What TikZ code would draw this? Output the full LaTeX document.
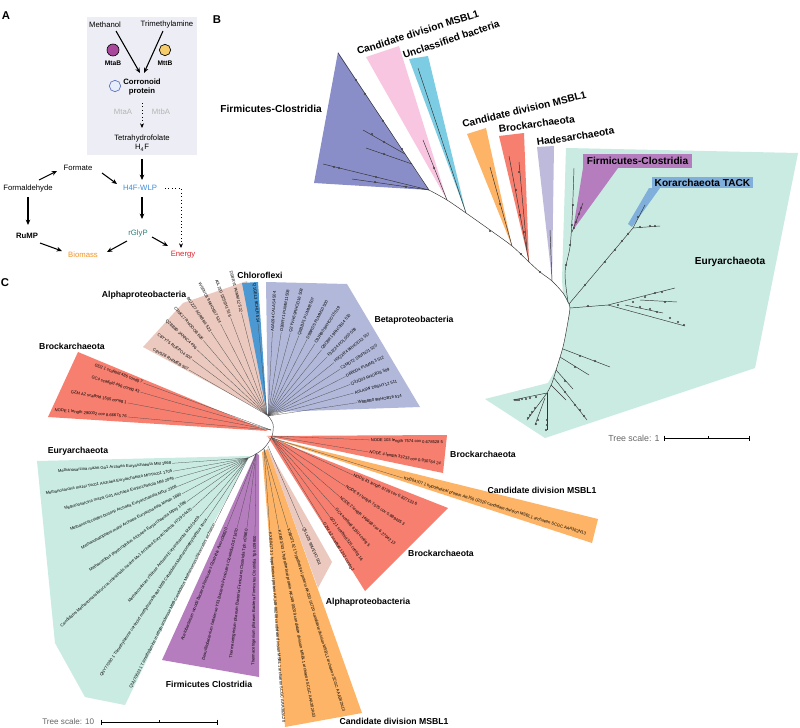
\documentclass[tikz,border=0pt]{standalone}
\usepackage{fontspec}
\setmainfont{Liberation Sans}
\usetikzlibrary{arrows.meta,calc}
\definecolor{boxgrey}{HTML}{EDEDF5}
\definecolor{mtabc}{HTML}{A9479C}
\definecolor{mttbc}{HTML}{F7CC6A}
\definecolor{corfill}{HTML}{E6EEFA}
\definecolor{coredge}{HTML}{5C6EC2}
\definecolor{wlpblue}{HTML}{3D8EDB}
\definecolor{glyteal}{HTML}{2F7F78}
\definecolor{bioorange}{HTML}{F39322}
\definecolor{enred}{HTML}{D8262E}
\definecolor{greytxt}{HTML}{B5B5B5}
\definecolor{cEury}{HTML}{C9EBE2}
\definecolor{cFirmB}{HTML}{8A8EC8}
\definecolor{cPink}{HTML}{F9C6E1}
\definecolor{cCyan}{HTML}{7CCDE3}
\definecolor{cOrange}{HTML}{FDB466}
\definecolor{cRed}{HTML}{F67F70}
\definecolor{cLav}{HTML}{BEBADB}
\definecolor{cFirmP}{HTML}{B67DBE}
\definecolor{cKor}{HTML}{7FAFDA}
\definecolor{cAlpha}{HTML}{EBC9BF}
\definecolor{cChlo}{HTML}{4B98D2}
\definecolor{cBeta}{HTML}{B1B8D9}
\tikzset{
  albl/.style={font=\fontsize{5.8}{7}\selectfont, inner sep=0.5pt, align=center},
  alblb/.style={font=\fontsize{5.8}{7}\selectfont\bfseries, inner sep=0.5pt, align=center},
  plet/.style={font=\fontsize{8.5}{10}\selectfont\bfseries, inner sep=0pt},
  arr/.style={-{Stealth[length=4pt,width=3.4pt]}, line width=0.8pt},
  dotarr/.style={-{Stealth[length=3.5pt,width=3pt]}, line width=0.6pt, dotted},
  blabel/.style={font=\fontsize{7.6}{9}\selectfont\bfseries, inner sep=0pt},
  clabel/.style={font=\fontsize{6.5}{8}\selectfont\bfseries, inner sep=0pt},
  scaletxt/.style={font=\fontsize{6.6}{8}\selectfont, text=black!60, inner sep=0pt},
  leaftext/.style={font=\fontsize{3.1}{3.7}\selectfont, inner sep=0.6pt},
  leafline/.style={line width=0.2pt, draw=black!70},
  br/.style={line width=0.35pt, draw=black!80},
}
\newcounter{lfc}
\newcommand\leafC[4]{%
  \stepcounter{lfc}%
  \pgfmathtruncatemacro\lfside{cos(#2)<0 ? 1 : 0}%
  \ifnum\lfside=1\relax
    \draw[leafline] (#1) -- ++({#3*cos(#2)},{-#3*sin(#2)}) node[leaftext,anchor=east,rotate=#2-180] (leaf\arabic{lfc}) {#4};%
  \else
    \draw[leafline] (#1) -- ++({#3*cos(#2)},{-#3*sin(#2)}) node[leaftext,anchor=west,rotate=#2] (leaf\arabic{lfc}) {#4};%
  \fi}
\newcommand\bdots[1]{\foreach \p in {#1} \fill[black!75] \p circle[radius=0.9pt];}
\begin{document}
\begin{tikzpicture}[x=0.75pt,y=-0.75pt]
\useasboundingbox (0,0) rectangle (800,728);
\fill[white] (0,0) rectangle (800,728);

% ================= Panel A =================
\fill[boxgrey] (87,17) rectangle (197,155);
\node[plet] (pA) at (6,16) {A};
\node[albl] (methanol) at (105,25) {Methanol};
\node[albl] (trimeth) at (167,25) {Trimethylamine};
\node[draw, circle, fill=mtabc, line width=0.5pt, minimum width=8.5pt, minimum height=9pt, inner sep=0pt] (mtabdot) at (113,50) {};
\node[draw, circle, fill=mttbc, line width=0.5pt, minimum width=8.5pt, inner sep=0pt] (mttbdot) at (165,50) {};
\node[alblb, font=\fontsize{5}{6}\selectfont\bfseries] (mtab) at (113,63) {MtaB};
\node[alblb, font=\fontsize{5}{6}\selectfont\bfseries] (mttb) at (165,63) {MttB};
\node[draw=coredge, circle, fill=corfill, line width=0.5pt, minimum size=8.5pt, inner sep=0pt] (cordot) at (115,86) {};
\node[alblb] (corr) at (142,87) {Corronoid\\protein};
\node[albl, text=greytxt] (mtaa) at (123,112) {MtaA};
\node[albl, text=greytxt] (mtba) at (161,112) {MtbA};
\node[albl] (thf) at (142,143) {Tetrahydrofolate\\H\textsubscript{4}F};
\node[albl] (formate) at (78,168) {Formate};
\node[albl] (formald) at (28,188) {Formaldehyde};
\node[albl, text=wlpblue] (wlp) at (140,188) {H4F-WLP};
\node[alblb] (rump) at (27,236) {RuMP};
\node[albl, text=glyteal] (rglyp) at (138,233) {rGlyP};
\node[albl, text=bioorange] (biomass) at (83,255) {Biomass};
\node[albl, text=enred] (energy) at (183,255) {Energy};

\draw[arr] ([shift={(11,6)}]methanol.center) -- ([shift={(-2,-14)}]corr.center);
\draw[arr] ([shift={(-4,6)}]trimeth.center) -- ([shift={(2,-14)}]corr.center);
\draw[dotarr] ([shift={(0,16)}]corr.center) -- ([shift={(0,-15)}]thf.center);
\draw[arr] ([shift={(0,16)}]thf.center) -- ([shift={(2,-8)}]wlp.center);
\draw[arr] ([shift={(11,-8)}]formald.center) -- ([shift={(-21,3)}]formate.center);
\draw[arr] ([shift={(24,5)}]formate.center) -- ([shift={(-23,-4)}]wlp.center);
\draw[dotarr] ([shift={(25,0)}]wlp.center) -| ([shift={(-2,-7)}]energy.center);
\draw[arr] ([shift={(2,9)}]wlp.center) -- ([shift={(4,-14)}]rglyp.center);
\draw[arr] ([shift={(0,9)}]formald.center) -- ([shift={(1,-11)}]rump.center);
\draw[arr] ([shift={(13,7)}]rump.center) -- ([shift={(-21,-4)}]biomass.center);
\draw[arr] ([shift={(-11,8)}]rglyp.center) -- ([shift={(24,-3)}]biomass.center);
\draw[arr] ([shift={(14,4)}]rglyp.center) -- ([shift={(-15,-9)}]energy.center);

% ================= Panel B =================
\node[plet] (pB) at (217,20) {B};
\fill[cEury] (566,148) -- (798,153) -- (755,368) -- (545,438) -- (485,399) -- (548,383) -- (557,367) -- (563,347) -- (567,327) -- (570,308) -- (563,293) -- (562,280) -- cycle;
\fill[cFirmB] (338,52) -- (314,183) -- (429,190) -- cycle;
\fill[cPink] (366,57) -- (399,46) -- (447,200) -- cycle;
\fill[cCyan] (409,59) -- (428,56) -- (466,213) -- cycle;
\fill[cOrange] (467,134) -- (486,128) -- (512,246) -- cycle;
\fill[cRed] (499,136) -- (524,133) -- (529,262) -- cycle;
\fill[cLav] (537,147) -- (554,146) -- (552,280) -- cycle;
\fill[cFirmP] (583,154) rectangle (692,168);
\fill[cFirmP] (583,168) -- (618,168) -- (573,230) -- cycle;
\fill[cKor] (652,177) rectangle (753,188);
\fill[cKor] (649,188) -- (660,188) -- (632,227) -- (628,224) -- cycle;

\node[blabel, anchor=east] (bfirm) at (322,109) {Firmicutes-Clostridia};
\node[blabel, anchor=base west, rotate=17.5] (bmsbl1) at (358,55) {Candidate division MSBL1};
\node[blabel, anchor=base west, rotate=18.6] (bunc) at (404,59) {Unclassified bacteria};
\node[blabel, anchor=base west, rotate=13.6] (bmsbl2) at (463,128) {Candidate division MSBL1};
\node[blabel, anchor=base west, rotate=8] (bbrock) at (499,133) {Brockarchaeota};
\node[blabel, anchor=base west, rotate=8.7] (bhades) at (537,146) {Hadesarchaeota};
\node[blabel] (bfirm2) at (637.5,161) {Firmicutes-Clostridia};
\node[blabel] (bkor) at (702.5,182.5) {Korarchaeota TACK};
\node[blabel] (beury) at (730,262) {Euryarchaeota};

% tree B
\draw[br] plot[smooth] coordinates {(429,190)(447,200)(466,213)(490,230)(512,246)(529,262)(540,272)(552,281)(563,293)(568,302)(570,308)(567,327)(563,347)(557,367)(552,383)(547,393)};
\draw[br] (429,190) -- (338,53);
\draw[br] (429,190) -- (323,164);
\draw[br] (429,190) -- (352,179);
\draw[br] (405,154) -- (363,130);
\draw[br] (412,164) -- (366,148);
\bdots{(356,80),(365,94),(383,121),(402,149),(334,167),(339,168),(376,177),(375,182),(406,187),(384,142),(384,154),(372,134)}
\draw[br] (447,200) -- (423,140);
\bdots{(434,168)}
\draw[br] (466,213) -- (418,68);
\draw[br] (512,246) -- (490,167);
\bdots{(500,204)}
\draw[br] (529,262) -- (509,156);
\draw[br] (527,250) -- (519,162);
\bdots{(516,190),(520,215),(524,232),(519,172),(490,231),(521,254),(540,272)}
\draw[br] (552,281) -- (550,230);
\draw[br] plot[smooth] coordinates {(568,302)(565,273)(570,247)(572,220)(573,197)(574,168)};
\bdots{(570,245),(572,225),(573,205),(566,265)}
\draw[br] (572,232) -- (583,203);
\bdots{(576,222),(579,214),(581,208),(574,228)}
\draw[br] (569,304) -- (585,285) -- (633,228) -- (660,226);
\draw[br] (633,228) -- (645,205);
\bdots{(585,285),(605,262),(615,250),(622,241),(628,234),(640,227),(650,226),(655,226),(638,217)}
\draw[br] (570,308) -- (608,305);
\draw[br] (608,305) -- (685,326);
\draw[br] (608,305) -- (675,288);
\draw[br] (625,305) -- (663,313);
\draw[br] (640,300) -- (677,302);
\bdots{(588,306),(618,305),(633,302),(645,297),(655,293),(662,292),(665,302),(670,318),(678,322),(684,325),(650,309),(640,307),(657,312)}
\draw[br] (563,349) -- (610,367);
\draw[br] (560,357) -- (589,375);
\draw[br] (556,370) -- (573,389);
\draw[br] (554,378) -- (587,420);
\draw[br] (551,385) -- (566,400);
\bdots{(580,356),(595,361),(575,367),(565,381),(565,392),(575,405),(580,410),(584,416)}
\draw[br] (547,393) -- (513,400);
\draw[br] (547,393) -- (527,420);
\draw[br] (547,393) -- (547,430);
\draw[br] (545,398) -- (535,425);
\bdots{(515,400),(517,400),(519,400),(522,399),(526,399),(530,398),(536,397),(528,418),(530,415),(532,412),(535,408),(547,420),(547,425),(546,430),(538,420),(536,424)}
\node[scaletxt, anchor=west] (bscale) at (608,438) {Tree scale: 1};
\draw[line width=0.6pt] (bscale.east) ++(5,0) coordinate (bs0) -- (749,438) coordinate (bs1);
\draw[line width=0.6pt] (bs0) ++(0,-2.5) -- ++(0,5);
\draw[line width=0.6pt] (bs1) ++(0,-2.5) -- ++(0,5);
\draw[line width=0.5pt] (708,436) -- (708,438);

% ================= Panel C =================
\node[plet] (pC) at (5,283) {C};
\coordinate (cA) at (267,415);
\coordinate (cBe) at (268,416);
\coordinate (cBUL) at (271,430);
\coordinate (cBLo) at (271,437);
\coordinate (cBUR) at (272,436);
\coordinate (cMR) at (272,438);
\coordinate (cAs) at (268,446);
\coordinate (cMB) at (264,449);
\coordinate (cF) at (256,454);
\coordinate (cE) at (248,458);

\fill[cRed] (268,431) -- (78,352) -- (48,417) -- cycle;
\fill[cAlpha] (267,414) -- (143,347) -- (183,303) -- (247,281) -- cycle;
\fill[cChlo] (267,414) -- (242,283) -- (258,282) -- cycle;
\fill[cBeta] (268,416) -- (266,282) -- (347,284) -- (420,407) -- (273,412) -- cycle;
\fill[cEury] (250,456) -- (37,461) -- (55,643) -- (85,697) -- (125,705) -- (215,520) -- cycle;
\fill[cFirmP] (256,453) -- (162,660) -- (259,677) -- (259,455) -- cycle;
\fill[cOrange] (262,452) -- (285,727) -- (362,713) -- (268,449) -- cycle;
\fill[cAlpha] (267,447) -- (332,562) -- (318,588) -- cycle;
\fill[cRed] (268,437) -- (448,508) -- (365,591) -- cycle;
\fill[cRed] (266,436) -- (447,435) -- (443,473) -- cycle;
\fill[cOrange] (270,438) -- (598,519) -- (592,543) -- cycle;

\node[clabel] (cchlo) at (260,275) {Chloroflexi};
\node[clabel] (calpha) at (144,295) {Alphaproteobacteria};
\node[clabel] (cbeta) at (414,320) {Betaproteobacteria};
\node[clabel] (cbrock1) at (72,346) {Brockarchaeota};
\node[clabel] (ceury) at (78,451) {Euryarchaeota};
\node[clabel] (cfirm) at (209,684) {Firmicutes Clostridia};
\node[clabel] (cmsbl1) at (394,721) {Candidate division MSBL1};
\node[clabel] (calpha2) at (368,602) {Alphaproteobacteria};
\node[clabel] (cbrock2) at (441,553) {Brockarchaeota};
\node[clabel] (cbrock3) at (483,454) {Brockarchaeota};
\node[clabel] (cmsbl2) at (542,490) {Candidate division MSBL1};

\draw[leafline, line width=0.35pt] plot[smooth] coordinates {(267,414)(273,424)(272,436)(265,447)(256,454)(248,458)};

% Brockarchaeota (upper left)
\leafC{cBUL}{159.8}{136}{GD2 1 scaffold 486 contig 7}
\leafC{cBUL}{163.8}{136}{GC4 scaffold 496 contig 43}
\leafC{cBUL}{169.3}{146}{GZM A2 scaffold 1505 contig 1}
\leafC{cBUL}{174.8}{144}{NODE 1 length 290002 cov 8.66675 76}
% Alphaproteobacteria (top)
\leafC{cA}{150}{90}{C8Y0Z8 RHIMEB 507}
\leafC{cA}{143.5}{93}{C8YY75 RUEPO4 502}
\leafC{cA}{137}{96}{Q2BB80 JANNC4 496}
\leafC{cA}{130.5}{98}{C3NK17 RHODOB 606}
\leafC{cA}{124}{100}{B6JZZ7 AGRBR4 523}
\leafC{cA}{117}{102}{W6RVC8 9RHOB17 514}
\leafC{cA}{110.5}{104}{A0L2E0 D2S6H1 516}
\leafC{cA}{104}{105}{D5BRY1 PUMM12 522}
% Chloroflexi
\leafC{cA}{95.6}{92}{Q1GEL3 9CHLR 514}
% Betaproteobacteria
\leafC{cBe}{87}{84}{A0A094 CALAS4 504}
\leafC{cBe}{81}{85}{D3BRY1 PUMM11 508}
\leafC{cBe}{75}{86}{Q2YVH6 9RHOD16 508}
\leafC{cBe}{69}{86}{Q6BBF1 PUMM8 507}
\leafC{cBe}{63}{86}{D9BRD5 PUMM10 500}
\leafC{cBe}{57}{86}{C9JRB0 9RHOD15 519}
\leafC{cBe}{51}{85}{Q6CBR1 9RHOB14 510}
\leafC{cBe}{45}{84}{F3JZ24 POLS50 508}
\leafC{cBe}{39}{85}{H0QXR4 9RHOD13 517}
\leafC{cBe}{33}{86}{C3MDT2 SINFN21 520}
\leafC{cBe}{27}{87}{D6B0D4 PUMM13 512}
\leafC{cBe}{21}{88}{Q3JQ03 RHOB16 509}
\leafC{cBe}{15}{89}{A0LA5W D9SHY12 511}
\leafC{cBe}{8.5}{90}{W8B8B0 9RHOB16 514}
% Euryarchaeota
\leafC{cE}{184}{76}{Methanosarcina mazei Go1 Archaea Euryarchaeota MM 1668}
\leafC{cE}{190}{76}{Methanosarcina mazei Tuc01 Archaea Euryarchaeota MmTuc01 1705}
\leafC{cE}{195.5}{76}{Methanosarcina mazei Go1 Archaea Euryarchaeota MM 2049}
\leafC{cE}{202}{76}{Methanococcoides burtonii Archaea Euryarchaeota Mbur 2308}
\leafC{cE}{208.5}{75}{Methanohalophilus mahii Archaea Euryarchaeota Mmah 1680}
\leafC{cE}{215.5}{75}{Methanolobus psychrophilus Archaea Euryarchaeota Mpsy 1596}
\leafC{cE}{222}{75}{Candidatus Methanomassiliicoccus intestinalis Issoire Mx1 Archaea Euryarchaeota H729 04420}
\leafC{cE}{230.5}{76}{Methanosalsum zhilinae Archaea Euryarchaeota Mzhil 0409}
\leafC{cE}{236}{73}{QNY77090 1 Trimethylamine corrinoid methyltransferase MttB Candidatus Methanomethylophilus alvus}
\leafC{cE}{243}{73}{QUU70623 1 Trimethylamine methyltransferase MttB Candidatus Methanomassiliicoccales archaeon}
% Firmicutes Clostridia
\leafC{cF}{248.3}{79}{Acetobacterium woodii Bacteria Firmicutes Clostridia Awo c06820}
\leafC{cF}{255.6}{76}{Desulfitobacterium hafniense Y51 Bacteria Firmicutes Clostridia DSY1670}
\leafC{cF}{263}{75}{Thermacetogenium phaeum Bacteria Firmicutes Clostridia Tph c07860}
\leafC{cF}{269.3}{81}{Thermacetogenium phaeum Bacteria Firmicutes Clostridia Tph c09800}
% MSBL1 (bottom)
\leafC{cMB}{274.1}{83}{KXB04173 1 hypothetical protein AKJ48 00208 candidate division MSBL1 archaeon SCGC AAA382A20}
\leafC{cMB}{280.5}{82}{KXB03743 1 hypothetical protein AKJ49 00209 candidate division MSBL1 archaeon SCGC AAA382A03}
\leafC{cMB}{286.9}{83}{KXB07142 1 hypothetical protein AKJ50 01720 candidate division MSBL1 archaeon SCGC AAA382N13}
% Alphaproteobacteria (small)
\leafC{cAs}{293.4}{88}{Q5LX28 9RUEPO 501}
% Brockarchaeota (lower)
\leafC{cBLo}{301.5}{100}{GZM A2 scaffold 1242 contig 2}
\leafC{cBLo}{306.4}{99}{GD2 1 scaffold 325 contig 16}
\leafC{cBLo}{312}{96}{GC4 scaffold 6150 contig 5}
\leafC{cBLo}{319}{91}{NODE 2 length 146698 cov 6.27942 13}
\leafC{cBLo}{326.5}{89}{NODE 97 length 7075 cov 0.889435 3}
\leafC{cBLo}{335.1}{90}{NODE 81 length 8729 cov 0.827133 6}
% MSBL1 (right)
\leafC{cMR}{343}{137}{KXB04707 1 hypothetical protein AKJ50 02020 candidate division MSBL1 archaeon SCGC AAA382N13}
% Brockarchaeota (upper right)
\leafC{cBUR}{350.6}{98}{NODE 4 length 33233 cov 0.930764 24}
\leafC{cBUR}{357.7}{98}{NODE 103 length 7574 cov 0.678528 5}

\node[scaletxt, anchor=west, font=\fontsize{6.1}{7}\selectfont] (cscale) at (42,722) {Tree scale: 10};
\draw[line width=0.6pt] (101,722) coordinate (cs0) -- (217,722) coordinate (cs1);
\draw[line width=0.6pt] (cs0) ++(0,-2.5) -- ++(0,5);
\draw[line width=0.6pt] (cs1) ++(0,-2.5) -- ++(0,5);
\draw[line width=0.5pt] (159,720) -- (159,722);
\end{tikzpicture}
\end{document}
